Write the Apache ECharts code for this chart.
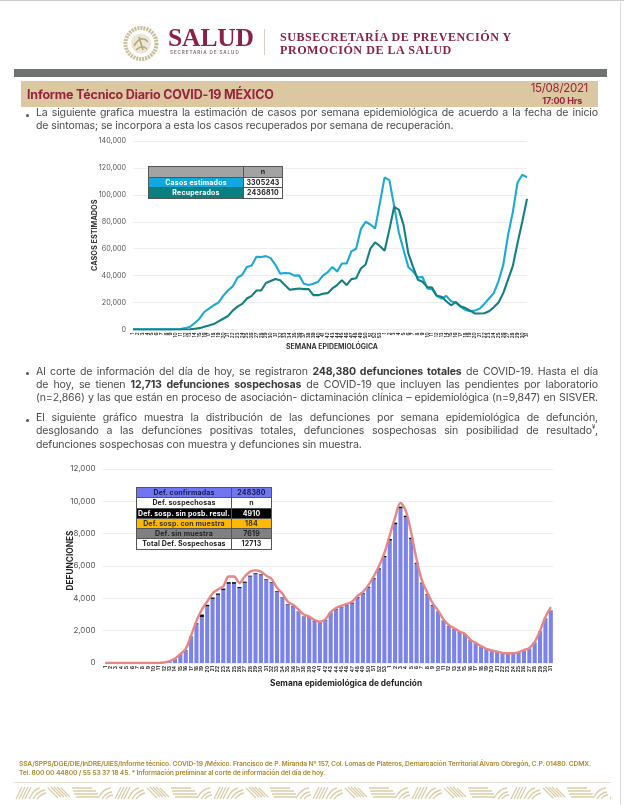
<!DOCTYPE html>
<html><head><meta charset="utf-8">
<script src="https://cdn.jsdelivr.net/npm/echarts@6/dist/echarts.min.js"></script>
<style>
html,body{margin:0;padding:0;background:#fff;width:624px;height:805px;overflow:hidden;font-family:Inter,"Open Sans",sans-serif}
.abs{position:absolute}
#page{position:absolute;left:0;top:0;width:624px;height:805px;overflow:hidden}
#chart{position:absolute;left:0;top:0;width:624px;height:805px}
.l{position:absolute;left:36px;width:562px;font-size:10.55px;line-height:13px;color:#4a4a4a;white-space:nowrap;letter-spacing:-.12px}
.j{text-align:justify;text-align-last:justify;white-space:normal}
.b{position:absolute;left:26px;width:3px;height:3px;border-radius:50%;background:#555}
.l b{color:#3a3a3a}
table{position:absolute;border-collapse:collapse;font-family:Inter,sans-serif;font-weight:700;table-layout:fixed;z-index:3}
td{border:1px solid #555;padding:0;text-align:center;overflow:hidden;white-space:nowrap}
</style></head><body>
<div id="page">
<div id="chart"></div>
<div class="abs" style="left:0;top:0;width:624px;height:1px;background:#ccc"></div>
<div class="abs" style="left:620px;top:0;width:1px;height:805px;background:#ddd"></div>
<svg class="abs" style="left:122px;top:24px" width="38" height="39" viewBox="0 0 38 39">
 <circle cx="19" cy="19.5" r="15.5" fill="none" stroke="#c9bd98" stroke-width="4" stroke-dasharray="2 1"/>
 <circle cx="19" cy="19.5" r="10" fill="#ece6d6"/>
 <path d="M12 22 Q19 10 26 18 M14 26 Q20 20 25 25 M17 13 L21 26" stroke="#b3a578" stroke-width="1.6" fill="none"/>
</svg>
<div class="abs" style="left:168px;top:22px;font:700 25.5px 'Liberation Serif',serif;letter-spacing:-.1px;color:#8a2343;line-height:32px">SALUD</div>
<div class="abs" style="left:170px;top:50px;font:600 4.6px Inter,sans-serif;letter-spacing:.9px;color:#8a6b74;line-height:6px">SECRETARÍA DE SALUD</div>
<div class="abs" style="left:264px;top:29px;width:1px;height:26px;background:#d9cfc0"></div>
<div class="abs" style="left:280px;top:31px;font:700 12.1px/13px 'Liberation Serif',serif;letter-spacing:.52px;color:#8a2343;white-space:nowrap">SUBSECRETARÍA DE PREVENCIÓN Y<br>PROMOCIÓN DE LA SALUD</div>
<div class="abs" style="left:14px;top:69px;width:593px;height:8px;background:#6f7271"></div>
<div class="abs" style="left:21px;top:81px;width:577px;height:26px;background:#dcc8a0"></div>
<div class="abs" style="left:27px;top:87px;font:700 12.5px/15px Inter,sans-serif;letter-spacing:-.2px;color:#96233f;white-space:nowrap">Informe Técnico Diario COVID-19 MÉXICO</div>
<div class="abs" style="left:488px;width:100px;top:81px;text-align:right;font:400 11.5px/14px Inter,sans-serif;letter-spacing:-.3px;color:#96233f">15/08/2021</div>
<div class="abs" style="left:488px;width:94px;top:95px;text-align:right;font:700 9px/12px Inter,sans-serif;letter-spacing:-.2px;color:#96233f">17:00 Hrs</div>

<div class="b" style="top:114px"></div>
<div class="l j" style="top:106px">La siguiente grafica muestra la estimación de casos por semana epidemiológica de acuerdo a la fecha de inicio</div>
<div class="l" style="top:119px">de sintomas; se incorpora a esta los casos recuperados por semana de recuperación.</div>

<div class="b" style="top:372px"></div>
<div class="l j" style="top:365px">Al corte de información del día de hoy, se registraron <b>248,380 defunciones totales</b> de COVID-19. Hasta el día</div>
<div class="l j" style="top:378px">de hoy, se tienen <b>12,713 defunciones sospechosas</b> de COVID-19 que incluyen las pendientes por laboratorio</div>
<div class="l j" style="top:391px">(n=2,866) y las que están en proceso de asociación- dictaminación clínica – epidemiológica (n=9,847) en SISVER.</div>

<div class="b" style="top:419px"></div>
<div class="l j" style="top:411px">El siguiente gráfico muestra la distribución de las defunciones por semana epidemiológica de defunción,</div>
<div class="l j" style="top:424px">desglosando a las defunciones positivas totales, defunciones sospechosas sin posibilidad de resultado<sup style="font-size:6px;line-height:0">¥</sup>,</div>
<div class="l" style="top:438px">defunciones sospechosas con muestra y defunciones sin muestra.</div>

<table id="t1" style="left:148px;top:166px;width:134px;font-size:7px;line-height:9.6px;letter-spacing:.2px"></table>
<table id="t2" style="left:136px;top:487px;width:135px;font-size:7px;line-height:9.3px;letter-spacing:.15px"></table>

<div class="abs" style="left:19px;top:759px;width:580px;font:600 6.75px/9px Inter,sans-serif;letter-spacing:-.17px;color:#ad8a2e;white-space:nowrap">SSA/SPPS/DGE/DIE/InDRE/UIES/Informe técnico. COVID-19 /México. Francisco de P. Miranda Nº 157, Col. Lomas de Plateros, Demarcación Territorial Álvaro Obregón, C.P. 01480. CDMX.<br>Tel. 800 00 44800 / 55 53 37 18 45. * Información preliminar al corte de información del día de hoy.</div>
<div class="abs" style="left:14px;top:782px;width:597px;height:1px;background:#e6e0d2"></div>
<svg class="abs" style="left:14px;top:785px" width="597" height="15">
 <defs><pattern id="orn" width="99" height="15" patternUnits="userSpaceOnUse">
  <g fill="none" stroke="#dccca8" stroke-width="1.3">
   <path d="M2 14 L8 2 M5 14 L11 2 M8 14 L14 2 M11 14 L17 2 M15 14 Q20 4 26 3 M19 14 Q24 6 31 5 M23 14 Q27 9 32 8"/>
   <path d="M34 3 L44 13 M37 2 L47 12 M40 2 L50 12 M43 2 L53 12 M47 3 L56 12"/>
   <path d="M58 3 H78 M59 6 H82 M60 9 H84 M62 12 H84"/>
   <path d="M84 13 Q90 3 97 3 M88 14 Q93 7 98 7 M92 14 Q95 10 99 10"/>
  </g></pattern></defs>
 <rect width="597" height="15" fill="url(#orn)"/>
</svg>
</div>
<script>
// Casos estimados / recuperados por semana (2020: 1-53, 2021: 1-31)
const semanas = ["1","2","3","4","5","6","7","8","9","10","11","12","13","14","15","16","17","18","19","20","21","22","23","24","25","26","27","28","29","30","31","32","33","34","35","36","37","38","39","40","41","42","43","44","45","46","47","48","49","50","51","52","53","1","2","3","4","5","6","7","8","9","10","11","12","13","14","15","16","17","18","19","20","21","22","23","24","25","26","27","28","29","30","31"];
const casosEstimados = [100,100,100,100,100,100,100,100,100,150,300,1000,2000,4800,8000,13000,15500,18000,20000,25000,29000,32000,38500,40500,46500,47500,54000,53800,54500,53000,48000,41500,42000,41800,40000,40200,34000,33000,34000,35500,40000,42500,46500,43000,49000,49000,58000,60000,74500,80000,78000,75000,93700,113000,111000,92000,72000,59000,46500,43000,38700,39000,30500,30000,25000,23000,25000,21000,20000,17000,14500,13500,14000,15500,19000,23000,27000,36000,48000,70000,87000,109000,115000,113000];
const recuperados = [0,0,0,0,0,0,0,0,0,0,0,0,100,500,1000,2000,3000,4000,6000,8000,10000,14000,17000,19000,23000,25000,29000,29000,34500,36000,37500,36500,33000,29500,30000,30500,30000,30000,25500,25500,26500,27000,30500,33000,36500,33000,37400,38000,45300,48300,60000,64700,62000,58500,74000,91000,89000,77500,56500,46500,37000,35500,31500,31200,25000,24300,21000,18000,20300,17300,16000,14000,12000,11900,12100,13500,16500,20000,27000,37000,47000,64000,80000,97000];
const defConfirmadas = [0,0,0,0,0,0,0,0,0,0,0,20,80,250,540,780,1590,2390,2850,3510,3970,4220,4520,4900,4900,4630,4960,5350,5500,5430,5160,4960,4410,4030,3620,3500,3150,2840,2790,2570,2480,2630,3080,3310,3450,3540,3680,4010,4260,4660,5180,5780,6540,7570,8580,9570,9020,7670,6140,4920,4210,3550,3150,2590,2270,2080,1900,1770,1410,1210,1000,840,750,670,590,570,570,630,750,880,1240,1940,2740,3220];
const defSinResultado = [0,0,0,0,0,0,0,0,0,0,0,0,0,0,10,20,40,60,150,90,80,80,80,100,100,70,70,50,50,50,40,40,40,30,30,30,30,30,30,30,20,30,30,30,30,30,50,50,50,60,60,70,80,100,100,100,90,80,60,50,40,40,30,30,20,20,20,20,10,10,10,10,10,10,10,10,10,10,10,10,20,20,20,20];
const defTotales = [0,0,0,0,0,0,0,0,0,0,0,40,110,280,560,870,1700,2600,3300,3800,4300,4550,4750,5350,5350,4950,5350,5650,5730,5650,5400,5200,4650,4300,3800,3600,3300,3000,2880,2650,2550,2700,3150,3400,3550,3650,3800,4150,4400,4800,5350,6000,6800,7900,9000,9900,9400,8050,6400,5100,4350,3700,3250,2700,2350,2150,1950,1800,1450,1250,1050,880,780,700,620,600,600,670,800,930,1300,2000,2850,3450];
const ticksCasos = {min:0,max:140000,interval:20000};
const ticksDef = {min:0,max:12000,interval:2000};
const tablaCasos = [["","n"],["Casos estimados","3305243"],["Recuperados","2436810"]];
const tablaDef = [["Def. confirmadas","248380"],["Def. sospechosas","n"],["Def. sosp. sin posb. resul.","4910"],["Def. sosp. con  muestra","184"],["Def. sin muestra","7619"],["Total Def. Sospechosas","12713"]];

const estilosT1=[["#a3a3a3","#222"],["#0fa8df","#fff"],["#0a7f80","#fff"]];
const estilosT2=[["#6f76f0","#1a1a50"],["#fff","#222"],["#000","#fff"],["#ffb800","#333"],["#808080","#222"],["#fff","#222"]];
function tabla(id,rows,est,w0,w1,h){
  document.getElementById(id).innerHTML='<colgroup><col style="width:'+w0+'px"><col style="width:'+w1+'px"></colgroup>'+rows.map((r,i)=>{
    const c0=est[i]; const c1= id==='t1'&&i>0?["#fff","#222"]: c0;
    return '<tr style="height:'+h+'px"><td style="background:'+c0[0]+';color:'+c0[1]+'">'+r[0]+'</td><td style="background:'+c1[0]+';color:'+c1[1]+'">'+r[1]+'</td></tr>';
  }).join('');
}
tabla('t1',tablaCasos,estilosT1,95,39,10.3);
tabla('t2',tablaDef,estilosT2,95,40,10.2);

const F='Inter, sans-serif';
const chart=echarts.init(document.getElementById('chart'),null,{renderer:'canvas'});
chart.setOption({
  animation:false,
  grid:[
    {left:133,top:141,width:394,height:188.5,containLabel:false},
    {left:102.5,top:469,width:451,height:194,containLabel:false}
  ],
  xAxis:[
    {gridIndex:0,type:'category',data:semanas,boundaryGap:false,axisTick:{show:false},
     axisLine:{lineStyle:{color:'#eee'}},
     axisLabel:{interval:0,rotate:90,fontSize:4.6,color:'#222',margin:3,fontFamily:F,fontWeight:600},
     name:'SEMANA EPIDEMIOLÓGICA',nameLocation:'middle',nameGap:14,nameMoveOverlap:false,
     nameTextStyle:{fontSize:6.9,fontWeight:700,color:'#333',fontFamily:F,padding:[0,0,0,4]}},
    {gridIndex:1,type:'category',data:semanas,axisTick:{show:false},
     axisLine:{lineStyle:{color:'#eee'}},
     axisLabel:{interval:0,rotate:90,fontSize:5,color:'#222',margin:3,fontFamily:F,fontWeight:600},
     name:'Semana epidemiológica de defunción',nameLocation:'middle',nameGap:17,nameMoveOverlap:false,
     nameTextStyle:{fontSize:8.3,fontWeight:700,color:'#222',fontFamily:F,padding:[0,0,0,36]}}
  ],
  yAxis:[
    {gridIndex:0,type:'value',...ticksCasos,
     axisLabel:{fontSize:7.2,color:'#555',margin:7,fontFamily:F,formatter:v=>v.toLocaleString('en-US')},
     splitLine:{lineStyle:{color:'#eeeeee',width:1}},axisLine:{show:false},axisTick:{show:false},
     name:'CASOS ESTIMADOS',nameLocation:'middle',nameGap:35,nameMoveOverlap:false,
     nameTextStyle:{fontSize:7.3,fontWeight:700,color:'#333',fontFamily:F}},
    {gridIndex:1,type:'value',...ticksDef,
     axisLabel:{fontSize:8,color:'#555',margin:7,fontFamily:F,formatter:v=>v.toLocaleString('en-US')},
     splitLine:{lineStyle:{color:'#eeeeee',width:1}},axisLine:{show:false},axisTick:{show:false},
     name:'DEFUNCIONES',nameLocation:'middle',nameGap:28,nameMoveOverlap:false,
     nameTextStyle:{fontSize:8.3,fontWeight:700,color:'#222',fontFamily:F,padding:[0,0,0,11]}}
  ],
  series:[
    {name:'Casos estimados',type:'line',xAxisIndex:0,yAxisIndex:0,data:casosEstimados,showSymbol:false,lineStyle:{color:'#1ba9d6',width:2.1},z:3},
    {name:'Recuperados',type:'line',xAxisIndex:0,yAxisIndex:0,data:recuperados,showSymbol:false,lineStyle:{color:'#127f80',width:2.1},z:4},
    {name:'Def. confirmadas',type:'bar',xAxisIndex:1,yAxisIndex:1,stack:'d',data:defConfirmadas,barWidth:4.1,itemStyle:{color:'#7b83ea'}},
    {name:'Def. sosp. sin posb. resul.',type:'bar',xAxisIndex:1,yAxisIndex:1,stack:'d',data:defSinResultado,barWidth:4.1,itemStyle:{color:'#000'}},
    {name:'Total',type:'line',xAxisIndex:1,yAxisIndex:1,data:defTotales,smooth:.35,showSymbol:false,lineStyle:{color:'#e88585',width:2.4},z:5}
  ]
});
</script>
</body></html>
